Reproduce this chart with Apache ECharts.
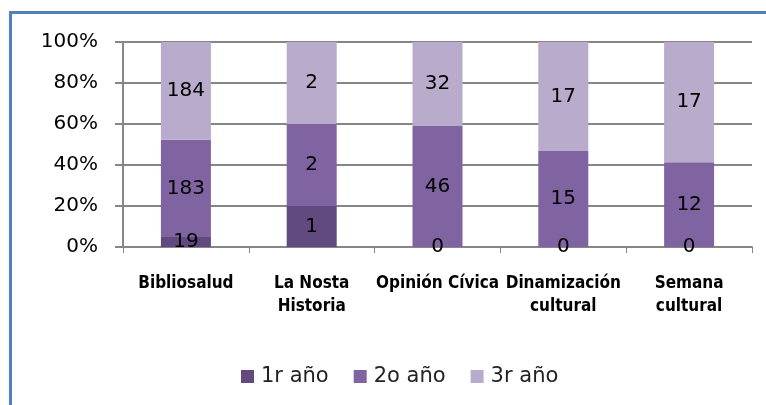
<!DOCTYPE html>
<html><head><meta charset="utf-8">
<script src="https://cdn.jsdelivr.net/npm/echarts@6/dist/echarts.min.js"></script>
<style>html,body{margin:0;padding:0;background:#fff}#c{width:766px;height:405px;position:relative}
#b{position:absolute;left:9px;top:11px;width:800px;height:500px;border:3px solid #4F81BD;box-sizing:border-box;pointer-events:none}</style>
</head><body><div id="c"></div><div id="b"></div>
<script>
const categories = ['Bibliosalud', 'La Nosta\nHistoria', 'Opinión Cívica', 'Dinamización\ncultural', 'Semana\ncultural'];
const seriesNames = ['1r año', '2o año', '3r año'];
const year1 = [19, 1, 0, 0, 0];
const year2 = [183, 2, 46, 15, 12];
const year3 = [184, 2, 32, 17, 17];
const yTicks = [0, 20, 40, 60, 80, 100];
const colors = ['#604A7F', '#8064A2', '#B8ABCB'];

const raw = [year1, year2, year3];
const totals = categories.map((_, i) => raw.reduce((s, a) => s + a[i], 0));
const chart = echarts.init(document.getElementById('c'));
chart.setOption({
  animation: false,
  grid: { left: 123, right: 14, top: 42, bottom: 158 },
  legend: {
    top: 361, left: 236, itemWidth: 13, itemHeight: 13, itemGap: 25,
    icon: 'rect',
    textStyle: { fontFamily: 'DejaVu Sans', fontSize: 21, color: '#222', padding: [0, 0, 0, 2] },
    data: seriesNames
  },
  xAxis: {
    type: 'category', data: categories,
    axisLine: { lineStyle: { color: '#868686', width: 2 } },
    axisTick: { show: true, length: 6, lineStyle: { color: '#868686' } },
    axisLabel: { interval: 0, margin: 25, fontFamily: 'DejaVu Sans Condensed', fontWeight: 'bold', fontSize: 17, color: '#000', lineHeight: 23 }
  },
  yAxis: {
    type: 'value', min: 0, max: 100, interval: 20,
    axisLine: { show: true, lineStyle: { color: '#868686', width: 2 } },
    axisTick: { show: true, length: 8, inside: false, lineStyle: { color: '#868686', width: 2 } },
    splitLine: { lineStyle: { color: '#868686', width: 2 } },
    axisLabel: { margin: 25, fontFamily: 'DejaVu Sans', fontSize: 20, color: '#000', formatter: v => yTicks.includes(v) ? v + '%' : '' }
  },
  series: raw.map((arr, k) => ({
    name: seriesNames[k], type: 'bar', stack: 'a', barWidth: 50,
    itemStyle: { color: colors[k] },
    label: { show: true, position: 'inside', fontFamily: 'DejaVu Sans', fontSize: 20, color: '#000',
      formatter: p => String(arr[p.dataIndex]) },
    data: arr.map((v, i) => v / totals[i] * 100)
  }))
});
</script></body></html>
